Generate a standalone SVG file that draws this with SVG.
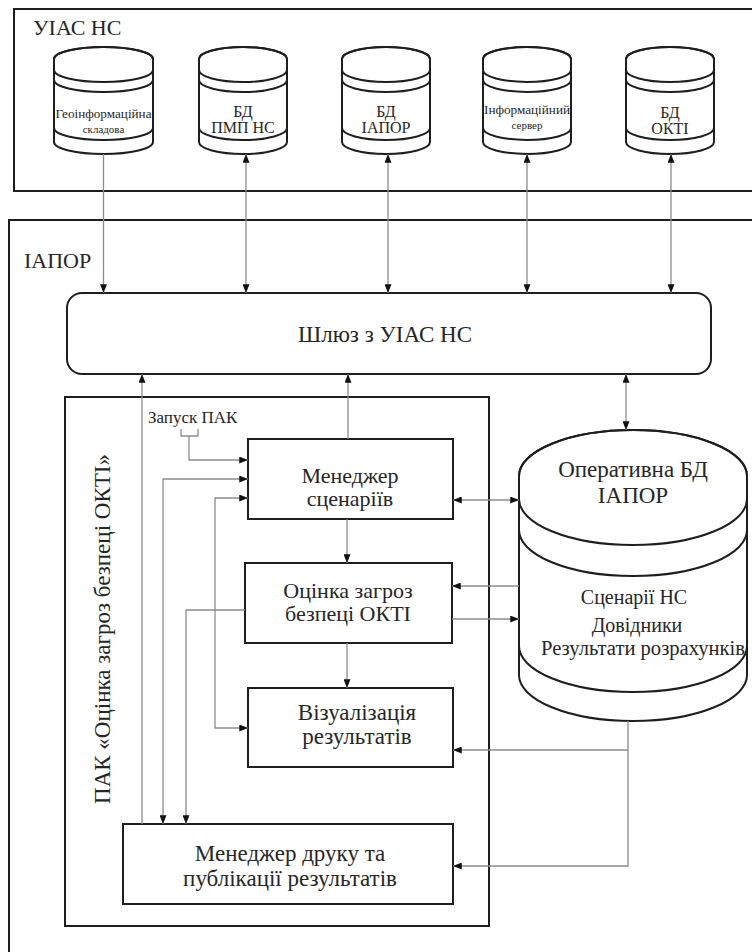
<svg xmlns="http://www.w3.org/2000/svg" width="752" height="952" viewBox="0 0 752 952" font-family="Liberation Serif, DejaVu Serif, serif">
<style>
text{font-family:'Liberation Serif','DejaVu Serif',serif;fill:#262626}
.box{fill:#fff;stroke:#1e1e1e;stroke-width:2}
.cyl{fill:#fff;stroke:#1e1e1e;stroke-width:2}
.band{fill:none;stroke:#1e1e1e;stroke-width:2}
.c{fill:none;stroke:#8c8c8c;stroke-width:1.3}
.l{font-size:22px}
.m{font-size:22px;text-anchor:middle}
.b{font-size:23px;text-anchor:middle}
.d{font-size:20px;text-anchor:middle}
.s{font-size:16px;text-anchor:middle}
.t{font-size:12px;text-anchor:middle}
</style>
<defs>
<marker id="a" viewBox="0 0 10 8" refX="10" refY="4" markerWidth="9" markerHeight="7" markerUnits="userSpaceOnUse" orient="auto-start-reverse">
<path d="M0,0 L10,4 L0,8 Z" fill="#111"/>
</marker>
<g id="cylS">
<path class="cyl" d="M-44,59 V142 A44,12 0 0 0 44,142 V59 A44,12 0 0 0 -44,59 Z"/>
<path class="band" d="M-44,59 A44,12 0 0 1 44,59 M-44,70 A44,12 0 0 0 44,70 M-44,80 A44,12 0 0 0 44,80 M-44,128 A44,12 0 0 0 44,128"/>
</g>
<g id="cylW">
<path class="cyl" d="M-49.5,59 V142 A49.5,12 0 0 0 49.5,142 V59 A49.5,12 0 0 0 -49.5,59 Z"/>
<path class="band" d="M-49.5,59 A49.5,12 0 0 1 49.5,59 M-49.5,70 A49.5,12 0 0 0 49.5,70 M-49.5,80 A49.5,12 0 0 0 49.5,80 M-49.5,128 A49.5,12 0 0 0 49.5,128"/>
</g>
</defs>

<g id="uiac">
<rect class="box" x="14" y="9" width="760" height="182"/>
<text class="l" x="33" y="35">УІАС НС</text>
</g>

<g id="iapor">
<rect class="box" x="9" y="220" width="780" height="780"/>
<text class="l" x="24" y="268">ІАПОР</text>
</g>

<g id="geo">
<use href="#cylW" x="103.5" y="0"/>
<text class="t" x="103.5" y="118" textLength="96" lengthAdjust="spacingAndGlyphs">Геоінформаційна</text>
<text class="t" x="103.5" y="133" style="font-size:11px">складова</text>
</g>
<g id="bdpmp">
<use href="#cylS" x="243" y="0"/>
<text class="s" x="243" y="117">БД</text>
<text class="s" x="243" y="133">ПМП НС</text>
</g>
<g id="bdiapor">
<use href="#cylS" x="386" y="0"/>
<text class="s" x="386" y="117">БД</text>
<text class="s" x="386" y="133">ІАПОР</text>
</g>
<g id="infserv">
<use href="#cylS" x="527" y="0"/>
<text class="t" x="527" y="114" textLength="86" lengthAdjust="spacingAndGlyphs">Інформаційний</text>
<text class="t" x="527" y="129" style="font-size:11px">сервер</text>
</g>
<g id="bdokti">
<use href="#cylS" x="670" y="0"/>
<text class="s" x="670" y="118">БД</text>
<text class="s" x="670" y="134">ОКТІ</text>
</g>

<g id="gateway">
<rect class="box" x="67" y="293" width="644" height="81" rx="15" ry="15"/>
<text class="b" x="385" y="342">Шлюз з УІАС НС</text>
</g>

<g id="pak">
<rect class="box" x="65" y="397" width="424" height="529"/>
<text transform="translate(110,629) rotate(-90)" text-anchor="middle" style="font-size:23px">ПАК «Оцінка загроз безпеці ОКТІ»</text>
</g>

<g id="opdb">
<path class="cyl" d="M519,476 V675 A114,46 0 0 0 747,675 V476 A114,46 0 0 0 519,476 Z"/>
<path class="band" d="M519,476 A114,46 0 0 1 747,476 M519,499 A114,46 0 0 0 747,499 M519,530 A114,46 0 0 0 747,530 M519,646 A114,46 0 0 0 747,646"/>
<text class="b" x="633" y="477">Оперативна БД</text>
<text class="b" x="633" y="503">ІАПОР</text>
<text class="d" x="634" y="604">Сценарії НС</text>
<text class="d" x="637" y="632">Довідники</text>
<text class="d" x="643" y="655" textLength="204" lengthAdjust="spacingAndGlyphs">Результати розрахунків</text>
</g>

<g id="scen">
<rect class="box" x="248" y="439" width="205" height="80"/>
<text class="m" x="350" y="483">Менеджер</text>
<text class="m" x="350" y="506">сценаріїв</text>
</g>
<g id="threat">
<rect class="box" x="245" y="563" width="207" height="80"/>
<text class="m" x="348" y="598">Оцінка загроз</text>
<text class="m" x="348" y="621">безпеці ОКТІ</text>
</g>
<g id="vis">
<rect class="box" x="248" y="688" width="205" height="79"/>
<text class="b" x="357" y="720">Візуалізація</text>
<text class="b" x="357" y="744">результатів</text>
</g>
<g id="print">
<rect class="box" x="123" y="824" width="330" height="80"/>
<text class="b" x="290" y="861">Менеджер друку та</text>
<text class="b" x="290" y="886">публікації результатів</text>
</g>

<g id="launch">
<text x="148" y="423" style="font-size:17px">Запуск ПАК</text>
</g>

<g id="connectors">
<path class="c" d="M103.5,154 V293" marker-end="url(#a)"/>
<path class="c" d="M246,154 V293" marker-start="url(#a)" marker-end="url(#a)"/>
<path class="c" d="M388,154 V293" marker-start="url(#a)" marker-end="url(#a)"/>
<path class="c" d="M527,154 V293" marker-start="url(#a)" marker-end="url(#a)"/>
<path class="c" d="M671,154 V293" marker-start="url(#a)" marker-end="url(#a)"/>
<path class="c" d="M142,824 V374" marker-end="url(#a)"/>
<path class="c" d="M348,439 V374" marker-end="url(#a)"/>
<path class="c" d="M626,374 V430" marker-start="url(#a)" marker-end="url(#a)"/>
<path class="c" d="M181,429 V436 H198 V429"/>
<path class="c" d="M189,436 V460 H248" marker-end="url(#a)"/>
<path class="c" d="M248,479 H163 V824" marker-start="url(#a)" marker-end="url(#a)"/>
<path class="c" d="M248,498 H215 V728 H248" marker-start="url(#a)" marker-end="url(#a)"/>
<path class="c" d="M245,610 H186 V824" marker-end="url(#a)"/>
<path class="c" d="M347,519 V563" marker-end="url(#a)"/>
<path class="c" d="M347,643 V688" marker-end="url(#a)"/>
<path class="c" d="M453,500 H519" marker-start="url(#a)" marker-end="url(#a)"/>
<path class="c" d="M519,586 H452" marker-end="url(#a)"/>
<path class="c" d="M452,619 H519" marker-end="url(#a)"/>
<path class="c" d="M628,721 V866 H453" marker-end="url(#a)"/>
<path class="c" d="M628,750 H453" marker-end="url(#a)"/>
</g>
</svg>
